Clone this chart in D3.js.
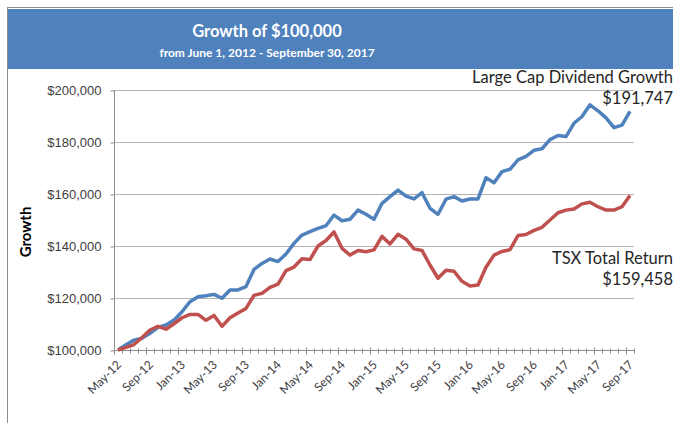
<!DOCTYPE html>
<html>
<head>
<meta charset="utf-8">
<script src="https://cdn.jsdelivr.net/npm/d3@7"></script>
<style>
    body { margin: 0; background: #fff; }
    svg { display: block; font-family: Lato, "Open Sans", sans-serif; }
    .grid line { stroke: #b3b3b3; stroke-width: 1; }
    .axis path, .axis line { stroke: #8c8c8c; }
    .axis text { fill: #404040; }
</style>
</head>
<body>
<div id="growth_chart"></div>
<script>
// Monthly values, May-12 through Sep-17 (65 months)
let startMonth = new Date(2012, 4, 1);
let months = d3.timeMonth.range(startMonth, new Date(2017, 9, 1));

let dividendGrowth = [
    100000, 102000, 103800, 104500, 106400, 108700, 109600, 111500, 114700, 118600,
    120500, 120900, 121400, 119900, 123100, 123100, 124400, 131000, 133300, 135000,
    134000, 136900, 141000, 144200, 145500, 146800, 147800, 151900, 149700, 150300,
    153800, 152200, 150300, 156400, 159000, 161500, 159200, 158100, 160500, 154500,
    152200, 158000, 159000, 157300, 158100, 158100, 166300, 164300, 168600, 169500,
    173100, 174500, 176800, 177400, 180900, 182500, 182100, 187200, 189800, 194300,
    192000, 189300, 185500, 186500, 191747
];

let tsxReturn = [
    100000, 101000, 102100, 104800, 107700, 109100, 108000, 110100, 112400, 113700,
    113700, 111400, 113300, 109100, 112400, 114200, 116000, 121000, 121800, 124100,
    125300, 130500, 131900, 135100, 134800, 140000, 142100, 145400, 139100, 136500,
    138300, 137800, 138500, 143700, 140800, 144500, 142600, 138900, 138300, 132700,
    127600, 130700, 130300, 126400, 124600, 125000, 131800, 136500, 137900, 138600,
    144000, 144400, 146000, 147200, 150000, 152800, 153800, 154200, 156200, 156800,
    155100, 153800, 153800, 155100, 159458
];

let seriesNames = ["Large Cap Dividend Growth", "TSX Total Return"];
let seriesColors = ["#4f81bd", "#c0504d"];
let yTicks = [100000, 120000, 140000, 160000, 180000, 200000];

let width = 673, height = 423;
let plot = {left: 114, right: 634, top: 90, bottom: 350};

let svg = d3.select("#growth_chart").append("svg")
    .attr("width", width)
    .attr("height", height);

// chart frame + title band
svg.append("rect")
    .attr("x", 7.5).attr("y", 7.5)
    .attr("width", 720).attr("height", 480)
    .attr("fill", "none")
    .attr("stroke", "#8c8c8c");

svg.append("rect")
    .attr("x", 8).attr("y", 9)
    .attr("width", 670).attr("height", 60)
    .attr("fill", "#4f81bd");

svg.append("text")
    .text("Growth of $100,000")
    .attr("x", 267).attr("y", 37)
    .attr("text-anchor", "middle")
    .attr("fill", "#fff")
    .style("font-size", "16.5px")
    .style("font-weight", "bold");

svg.append("text")
    .text("from June 1, 2012 - September 30, 2017")
    .attr("x", 267).attr("y", 57)
    .attr("text-anchor", "middle")
    .attr("fill", "#fff")
    .style("font-size", "12px")
    .style("font-weight", "bold");

// scales
let xScale = d3.scaleBand()
    .domain(months)
    .range([plot.left, plot.right]);

let yScale = d3.scaleLinear()
    .domain([100000, 200000])
    .range([plot.bottom, plot.top]);

// gridlines
svg.append("g")
    .attr("class", "grid")
    .selectAll("line")
    .data(yTicks.slice(1))
    .enter().append("line")
    .attr("x1", plot.left).attr("x2", plot.right)
    .attr("y1", d => yScale(d) + 0.5).attr("y2", d => yScale(d) + 0.5);

// y axis
let yAxis = d3.axisLeft(yScale)
    .tickValues(yTicks)
    .tickSize(4)
    .tickPadding(9)
    .tickFormat(d => "$" + d3.format(",")(d));

let yAxisGroup = svg.append("g")
    .attr("class", "axis")
    .attr("transform", "translate(" + (plot.left + 0.5) + ",0.5)")
    .call(yAxis);
yAxisGroup.select(".domain").attr("d", "M0," + (plot.top - 0.5) + "V" + (plot.bottom - 0.5));
yAxisGroup.selectAll("text").style("font-size", "13px");

svg.append("text")
    .text("Growth")
    .attr("transform", "translate(31,232) rotate(-90)")
    .attr("text-anchor", "middle")
    .attr("fill", "#000")
    .style("font-size", "15px")
    .style("font-weight", "bold");

// x axis: monthly minor ticks, labelled major ticks every 4 months
let xAxisGroup = svg.append("g")
    .attr("class", "axis")
    .attr("transform", "translate(0," + (plot.bottom + 0.5) + ")");

xAxisGroup.append("line")
    .attr("x1", plot.left).attr("x2", plot.right);

let tickMonths = months.concat([d3.timeMonth.offset(months[months.length - 1], 1)]);
let tickX = d => tickMonths.indexOf(d) < months.length ? xScale(d) : plot.right;

xAxisGroup.selectAll(".tick")
    .data(tickMonths)
    .enter().append("line")
    .attr("x1", d => Math.round(tickX(d)) + 0.5)
    .attr("x2", d => Math.round(tickX(d)) + 0.5)
    .attr("y1", (d, i) => i % 4 === 0 ? -3 : -2)
    .attr("y2", (d, i) => i % 4 === 0 ? 4 : 3);

xAxisGroup.selectAll(".xlabel")
    .data(months.filter((d, i) => i % 4 === 0))
    .enter().append("text")
    .attr("class", "xlabel")
    .text(d => d3.timeFormat("%b-%y")(d))
    .attr("transform", d => "translate(" + (xScale(d) + 5) + ",12) rotate(-45)")
    .attr("text-anchor", "end")
    .attr("dy", "0.35em")
    .style("font-size", "12px");

// lines
let line = d3.line()
    .x((d, i) => xScale(months[i]) + xScale.bandwidth() / 2)
    .y(d => yScale(d));

svg.selectAll(".series")
    .data([dividendGrowth, tsxReturn])
    .enter().append("path")
    .attr("class", "series")
    .attr("d", line)
    .attr("fill", "none")
    .attr("stroke", (d, i) => seriesColors[i])
    .attr("stroke-width", 3.5)
    .attr("stroke-linejoin", "round");

// end labels
let endLabels = [
    {name: seriesNames[0], value: dividendGrowth[dividendGrowth.length - 1], y: 83},
    {name: seriesNames[1], value: tsxReturn[tsxReturn.length - 1], y: 264}
];

let labels = svg.selectAll(".endLabel")
    .data(endLabels)
    .enter().append("text")
    .attr("class", "endLabel")
    .attr("text-anchor", "end")
    .attr("fill", "#262626")
    .style("font-size", "16.5px");

labels.append("tspan")
    .attr("x", 673).attr("y", d => d.y)
    .text(d => d.name);
labels.append("tspan")
    .attr("x", 673).attr("y", d => d.y + 21)
    .text(d => "$" + d3.format(",")(d.value));
</script>
</body>
</html>
